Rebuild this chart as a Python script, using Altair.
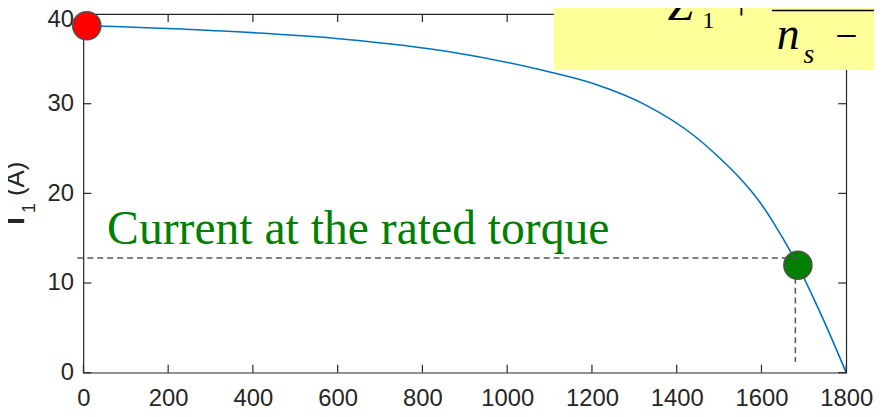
import altair as alt
import pandas as pd

# ---- data ----
speed = [0, 49, 302, 616, 864, 1091, 1208, 1325, 1442, 1500, 1551, 1598, 1630, 1668, 1686, 1720, 1750, 1800]
current = [38.7, 38.65, 38.17, 37.2, 35.8, 33.64, 32.17, 29.9, 26.4, 24.0, 21.6, 18.9, 16.6, 13.55, 11.95, 8.6, 5.5, 0.0]

x_ticks = [0, 200, 400, 600, 800, 1000, 1200, 1400, 1600, 1800]
y_ticks = [0, 10, 20, 30, 40]

point_x = [8, 1686]
point_y = [38.7, 11.98]
point_color = ["#FF0000", "#007F00"]

h_dash_x = [-14, 1690]
h_dash_y = [12.8, 12.8]
v_dash_x = [1680, 1680]
v_dash_y = [12.8, 1.2]

label_text = ["Current at the rated torque"]
label_x = [56]
label_y = [14.4]

# formula box (data coordinates, partly outside the axes)
box_x = [1110]
box_x2 = [1880]
box_y = [33.75]
box_y2 = [42.5]

W, H = 769, 361.5
AX = "#262626"

xs = alt.Scale(domain=[0, 1800], nice=False, zero=False)
ys = alt.Scale(domain=[0, 40], nice=False, zero=False)

x_axis = alt.Axis(
    values=x_ticks, format="d", title=None, domain=False, ticks=False, tickSize=0, grid=False,
    labelFontSize=24, labelFont="Liberation Sans", labelColor=AX,
    labelPadding=14, labelFlush=False)
y_axis = alt.Axis(
    values=y_ticks, format="d", title=None, domain=False, ticks=False, tickSize=0, grid=False,
    labelFontSize=24, labelFont="Liberation Sans", labelColor=AX, labelPadding=10,
    labelOffset={"condition": {"test": "datum.value == 40", "value": 6}, "value": 0})


def X(f):
    return alt.X(f, scale=xs, axis=x_axis)


def Y(f):
    return alt.Y(f, scale=ys, axis=y_axis)


curve_df = pd.DataFrame({"speed": speed, "current": current})
xt_df = pd.DataFrame({"t": x_ticks})
yt_df = pd.DataFrame({"t": y_ticks})
pt_df = pd.DataFrame({"x": point_x, "y": point_y, "c": point_color})
hd_df = pd.DataFrame({"x": h_dash_x, "y": h_dash_y})
vd_df = pd.DataFrame({"x": v_dash_x, "y": v_dash_y})
lab_df = pd.DataFrame({"x": label_x, "y": label_y, "t": label_text})
box_df = pd.DataFrame({"x": box_x, "x2": box_x2, "y": box_y, "y2": box_y2})

f_italic = pd.DataFrame({
    "x": [1378.7, 1636, 1699.4],
    "y": [39.39, 36.07, 34.52],
    "t": ["Z", "n", "s"],
    "s": [46, 46, 28],
})
f_upright = pd.DataFrame({
    "x": [1460.6, 1528.5, 1774],
    "y": [38.4, 39.5, 36.07],
    "t": ["1", "+", "\u2212"],
    "s": [24, 36, 40],
})
bar_df = pd.DataFrame({"x": [1624.5], "x2": [1880], "y": [40.39]})

# ---- layers ----
curve = alt.Chart(curve_df).mark_line(color="#0072BD", strokeWidth=1.6, interpolate="monotone").encode(
    x=X("speed:Q"), y=Y("current:Q"))

ticks_bottom = alt.Chart(xt_df).mark_rule(color=AX, strokeWidth=1.2).encode(
    x=X("t:Q"), y=alt.value(H), y2=alt.value(H - 8))
ticks_top = alt.Chart(xt_df).mark_rule(color=AX, strokeWidth=1.2).encode(
    x=X("t:Q"), y=alt.value(0), y2=alt.value(8))
ticks_left = alt.Chart(yt_df).mark_rule(color=AX, strokeWidth=1.2).encode(
    y=Y("t:Q"), x=alt.value(0), x2=alt.value(8))
ticks_right = alt.Chart(yt_df).mark_rule(color=AX, strokeWidth=1.2).encode(
    y=Y("t:Q"), x=alt.value(W), x2=alt.value(W - 8))

vdash = alt.Chart(vd_df).mark_line(color="#555555", strokeWidth=1.5, strokeDash=[6, 4]).encode(
    x=X("x:Q"), y=Y("y:Q"))

points = alt.Chart(pt_df).mark_circle(size=804, opacity=1, stroke="#505050", strokeWidth=1.5).encode(
    x=X("x:Q"), y=Y("y:Q"), color=alt.Color("c:N", scale=None))

hdash = alt.Chart(hd_df).mark_line(color="#555555", strokeWidth=1.5, strokeDash=[6, 4]).encode(
    x=X("x:Q"), y=Y("y:Q"))

label = alt.Chart(lab_df).mark_text(align="left", baseline="alphabetic", font="Liberation Serif",
                                    fontSize=48, color="#007F00").encode(
    x=X("x:Q"), y=Y("y:Q"), text="t:N")

box = alt.Chart(box_df).mark_rect(color="#FFFF99", opacity=1).encode(
    x=X("x:Q"), x2="x2:Q", y=Y("y:Q"), y2="y2:Q")

fi = alt.Chart(f_italic).mark_text(align="left", baseline="alphabetic", font="Liberation Serif",
                                   fontStyle="italic", color="black").encode(
    x=X("x:Q"), y=Y("y:Q"), text="t:N", size=alt.Size("s:Q", scale=None))
fu = alt.Chart(f_upright).mark_text(align="left", baseline="alphabetic", font="Liberation Serif",
                                    color="black").encode(
    x=X("x:Q"), y=Y("y:Q"), text="t:N", size=alt.Size("s:Q", scale=None))
fbar = alt.Chart(bar_df).mark_rule(color="black", strokeWidth=1.5).encode(
    x=X("x:Q"), x2="x2:Q", y=Y("y:Q"))

# y-axis title "I1 (A)" with subscript, rotated
ttl_df = pd.DataFrame({"t": ["I", "1", "(A)"]})
t_I = alt.Chart(ttl_df).transform_filter("datum.t == 'I'").mark_text(
    angle=270, align="left", baseline="alphabetic", font="Liberation Sans",
    fontSize=27, fontWeight="bold", color=AX).encode(
    x=alt.value(-59.5), y=alt.value(212.5), text="t:N")
t_1 = alt.Chart(ttl_df).transform_filter("datum.t == '1'").mark_text(
    angle=270, align="left", baseline="alphabetic", font="Liberation Sans",
    fontSize=18, color=AX).encode(
    x=alt.value(-49), y=alt.value(200.5), text="t:N")
t_A = alt.Chart(ttl_df).transform_filter("datum.t == '(A)'").mark_text(
    angle=270, align="left", baseline="alphabetic", font="Liberation Sans",
    fontSize=26, color=AX).encode(
    x=alt.value(-59.5), y=alt.value(183.5), text="t:N")

chart = alt.layer(
    curve, ticks_bottom, ticks_top, ticks_left, ticks_right,
    vdash, points, hdash, label, box, fi, fu, fbar, t_I, t_1, t_A
).properties(
    width=W, height=H,
    autosize=alt.AutoSizeParams(type="none"),
    padding={"left": 76, "top": 4.5, "right": 28, "bottom": 36},
    background="white",
).configure_view(stroke=AX, strokeWidth=1.2)

chart.save("out.html", embed_options={"renderer": "svg", "actions": False})
